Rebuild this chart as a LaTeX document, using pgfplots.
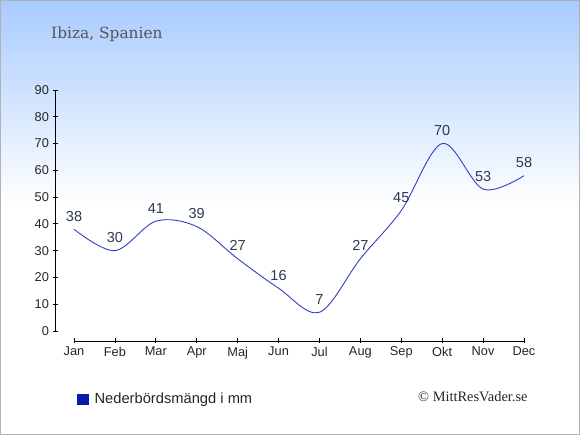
\documentclass[border=0pt]{standalone}
\usepackage{fontspec}
\setmainfont{Liberation Sans}
\newfontfamily\titlefont{DejaVu Serif}
\newfontfamily\copyfont{Liberation Serif}
\usepackage{pgfplots}
\pgfplotsset{compat=1.18}
\definecolor{bgtop}{RGB}{168,203,255}
\definecolor{linecol}{RGB}{48,64,200}
\definecolor{labelcol}{RGB}{45,58,79}
\definecolor{legblue}{RGB}{10,26,170}
\definecolor{titlecol}{RGB}{85,85,85}
\begin{document}
\begin{tikzpicture}
\fill[white] (0pt,0pt) rectangle (580pt,435pt);
\shade[top color=bgtop, bottom color=white] (0pt,230pt) rectangle (580pt,435pt);
\draw[black!30, line width=1.2pt] (0.6pt,0.6pt) rectangle (579.4pt,434.4pt);
\node[anchor=base west, font=\titlefont\fontsize{15.4}{18}\selectfont, text=titlecol, inner sep=0pt] at (51pt,396pt) {Ibiza, Spanien};
\node[anchor=west, font=\copyfont\fontsize{14.4}{17}\selectfont, text=black!85, inner sep=0pt] at (418pt,38pt) {© MittResVader.se};
\begin{axis}[
  at={(55pt,94pt)}, anchor=south west,
  width=469pt, height=251pt, scale only axis,
  xmin=-0.465, xmax=11, ymin=-3.73, ymax=90,
  axis x line*=bottom, axis y line*=left,
  axis line style={draw=none},
  xtick={0,...,11},
  xticklabels={Jan,Feb,Mar,Apr,Maj,Jun,Jul,Aug,Sep,Okt,Nov,Dec},
  ytick={0,10,...,90},
  tick align=center, major tick length=5pt,
  tick style={black, line width=0.8pt},
  /pgf/number format/assume math mode=true,
  ticklabel style={font=\fontsize{12.8}{15}\selectfont, text=black!85},
  clip=false,
  legend style={draw=none, fill=none, inner sep=0pt, at={(0.0469,-0.231)}, anchor=west,
    font=\fontsize{14.7}{17}\selectfont, text=black!85},
  legend image code/.code={\fill[legblue] (0pt,-5pt) rectangle (11pt,5pt);\path (15pt,0pt);},
]
\draw[black, line width=0.8pt] (axis cs:-0.465,0) -- (axis cs:-0.465,90);
\draw[black, line width=0.8pt] (axis cs:0,-3.73) -- (axis cs:11,-3.73);
\addplot[smooth, tension=0.55, color=linecol, line width=0.9pt,
  nodes near coords,
  every node near coord/.style={anchor=center, yshift=13pt, font=\fontsize{14.5}{17}\selectfont, text=labelcol},
  forget plot]
coordinates {(0,38) (1,30) (2,41) (3,39) (4,27) (5,16) (6,7) (7,27) (8,45) (9,70) (10,53) (11,58)};
\addlegendimage{legblue}
\addlegendentry{Nederbördsmängd i mm}
\end{axis}
\end{tikzpicture}
\end{document}
